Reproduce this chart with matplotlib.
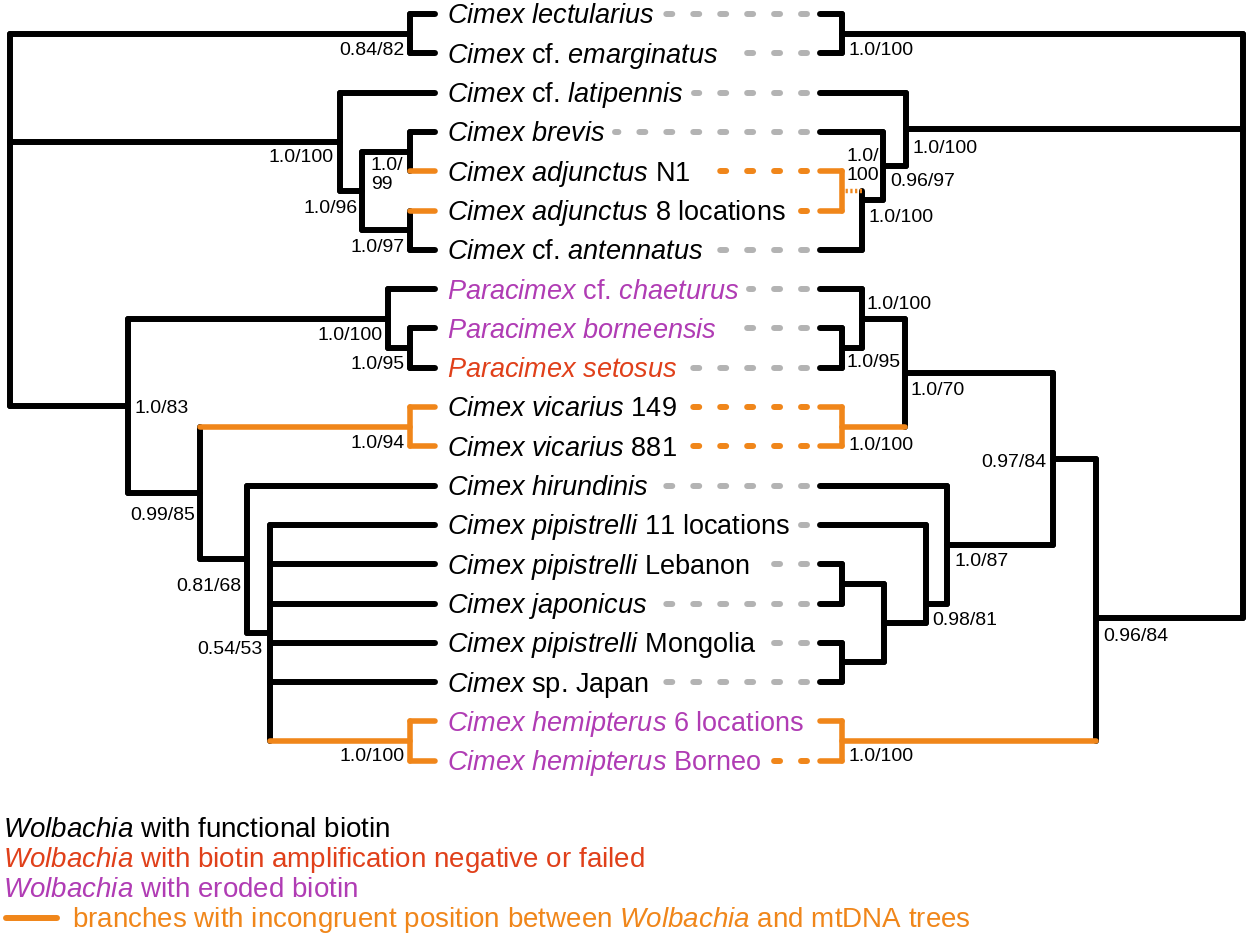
import matplotlib
matplotlib.use("Agg")
import matplotlib.pyplot as plt

plt.rcParams['font.family'] = ['Liberation Sans', 'DejaVu Sans']
plt.rcParams['mathtext.fontset'] = 'custom'
plt.rcParams['mathtext.it'] = 'Liberation Sans:italic'
plt.rcParams['mathtext.rm'] = 'Liberation Sans'
plt.rcParams['lines.scale_dashes'] = False

BLACK = '#000000'
ORANGE = '#f0861a'
GREY = '#b3b3b3'
PURPLE = '#b03cb4'
RED = '#e0401a'

# taxa, top to bottom (shared by both trees)
taxa = [
    r"$\mathit{Cimex}$ $\mathit{lectularius}$",
    r"$\mathit{Cimex}$ cf. $\mathit{emarginatus}$",
    r"$\mathit{Cimex}$ cf. $\mathit{latipennis}$",
    r"$\mathit{Cimex}$ $\mathit{brevis}$",
    r"$\mathit{Cimex}$ $\mathit{adjunctus}$ N1",
    r"$\mathit{Cimex}$ $\mathit{adjunctus}$ 8 locations",
    r"$\mathit{Cimex}$ cf. $\mathit{antennatus}$",
    r"$\mathit{Paracimex}$ cf. $\mathit{chaeturus}$",
    r"$\mathit{Paracimex}$ $\mathit{borneensis}$",
    r"$\mathit{Paracimex}$ $\mathit{setosus}$",
    r"$\mathit{Cimex}$ $\mathit{vicarius}$ 149",
    r"$\mathit{Cimex}$ $\mathit{vicarius}$ 881",
    r"$\mathit{Cimex}$ $\mathit{hirundinis}$",
    r"$\mathit{Cimex}$ $\mathit{pipistrelli}$ 11 locations",
    r"$\mathit{Cimex}$ $\mathit{pipistrelli}$ Lebanon",
    r"$\mathit{Cimex}$ $\mathit{japonicus}$",
    r"$\mathit{Cimex}$ $\mathit{pipistrelli}$ Mongolia",
    r"$\mathit{Cimex}$ sp. Japan",
    r"$\mathit{Cimex}$ $\mathit{hemipterus}$ 6 locations",
    r"$\mathit{Cimex}$ $\mathit{hemipterus}$ Borneo",
]
biotin = ['functional'] * 7 + ['eroded', 'eroded', 'failed'] + ['functional'] * 8 + ['eroded', 'eroded']
biotin_colour = {'functional': BLACK, 'failed': RED, 'eroded': PURPLE}

legend_lines = [
    (r"$\mathit{Wolbachia}$ with functional biotin", BLACK),
    (r"$\mathit{Wolbachia}$ with biotin amplification negative or failed", RED),
    (r"$\mathit{Wolbachia}$ with eroded biotin", PURPLE),
]
legend_branch = r"branches with incongruent position between $\mathit{Wolbachia}$ and mtDNA trees"


def N(x, kids, sup=None, lab=None, inc=False, join=None, stem='solid'):
    return dict(x=x, kids=kids, sup=sup, lab=lab, inc=inc, join=join, stem=stem)


# Wolbachia tree (left), node heights + support values
wolbachia_tree = N(10, [
    N(410, [0, 1], '0.84/82', (405, 0.94, 'right')),
    N(340, [2, N(362, [N(410, [3, 4], '1.0/\n99', (371, 4.1, 'left')),
                       N(410, [5, 6], '1.0/97', (405, 5.93, 'right'))],
                 '1.0/96', (358, 4.94, 'right'))],
      '1.0/100', (334, 3.66, 'right')),
    N(128, [N(388, [7, N(410, [8, 9], '1.0/95', (405, 8.93, 'right'))],
              '1.0/100', (383, 8.17, 'right')),
            N(200, [N(410, [10, 11], '1.0/94', (405, 10.92, 'right'), inc=True),
                    N(247, [12, N(270, [13, 14, 15, 16, 17,
                                        N(410, [18, 19], '1.0/100', (405, 18.9, 'right'), inc=True)],
                                  '0.54/53', (263, 16.16, 'right'))],
                      '0.81/68', (241, 14.58, 'right'))],
              '0.99/85', (195, 12.75, 'right'))],
      '1.0/83', (135, 10.03, 'left')),
])
wolbachia_inc_leaves = [4, 5]

# mtDNA tree (right)
mtdna_tree = N(1243, [
    N(842, [0, 1], '1.0/100', (848, 0.94, 'left')),
    N(906, [2, N(883, [3, N(862, [N(842, [4, 5], '1.0/\n100', (846, 3.87, 'left'),
                                    inc=True, stem='dotted'), 6],
                             '1.0/100', (868, 5.17, 'left'), join=4.73)],
                 '0.96/97', (890, 4.25, 'left'))],
      '1.0/100', (912, 3.41, 'left')),
    N(1096, [N(1053, [N(905, [N(862, [7, N(842, [8, 9], '1.0/95', (847, 8.88, 'left'))],
                                '1.0/100', (866, 7.4, 'left')),
                              N(842, [10, 11], '1.0/100', (848, 10.97, 'left'), inc=True)],
                        '1.0/70', (910, 9.57, 'left')),
                      N(947, [12, N(926, [13, N(884, [N(842, [14, 15]), N(842, [16, 17])])],
                                    '0.98/81', (932, 15.42, 'left'), join=15.0)],
                        '1.0/87', (955, 13.94, 'left'))],
               '0.97/84', (1046, 11.4, 'right')),
             N(842, [18, 19], '1.0/100', (848, 18.9, 'left'), inc=True)],
      '0.96/84', (1103, 15.83, 'left'), join=15.37),
])

LEFT_TIP = 435
RIGHT_TIP = 820
LABEL_X = 447
TREE_LW = 4.3


def place(n):
    if isinstance(n, int):
        return n
    ys = [place(c) for c in n['kids']]
    n['lo'], n['hi'] = min(ys), max(ys)
    n['y'] = n['join'] if n['join'] is not None else (n['lo'] + n['hi']) / 2
    return n['y']


def inc_leaves(n, inside=False):
    if isinstance(n, int):
        return [n] if inside else []
    return [l for c in n['kids'] for l in inc_leaves(c, inside or n['inc'])]


def draw(ax, n, tip_x, leaf_inc, inside=False):
    col = ORANGE if inside else BLACK
    ax.plot([n['x'], n['x']], [n['lo'], n['hi']], color=col, lw=TREE_LW if not inside else 4.0,
            solid_capstyle='round', zorder=3)
    for c in n['kids']:
        if isinstance(c, int):
            cx, cy, cinc, style = tip_x, c, inside or c in leaf_inc, 'solid'
        else:
            cx, cy, cinc, style = c['x'], c['y'], inside or c['inc'], c['stem']
        ccol = ORANGE if cinc else BLACK
        if style == 'dotted':
            ax.plot([n['x'], cx], [cy, cy], color=ccol, lw=3.2, dashes=(1.6, 1.8),
                    dash_capstyle='butt', zorder=3)
        else:
            ax.plot([n['x'], cx], [cy, cy], color=ccol, lw=TREE_LW if not cinc else 4.0,
                    solid_capstyle='round', zorder=3)
        if not isinstance(c, int):
            draw(ax, c, tip_x, leaf_inc, cinc)
    if n['sup']:
        tx, ty, ha = n['lab']
        ax.text(tx, ty, n['sup'], fontsize=14, ha=ha, va='center', color=BLACK,
                linespacing=1.15, zorder=4)


fig = plt.figure(figsize=(12.5, 9.4), dpi=100)
ax = fig.add_axes([0, 0, 1, 1])
ax.set_xlim(0, 1250)
ax.set_ylim((940 - 14) / 39.3, -14 / 39.3)
ax.axis('off')

place(wolbachia_tree)
place(mtdna_tree)

# taxon labels
texts = []
for i, name in enumerate(taxa):
    t = ax.text(LABEL_X, i + 0.24, name, fontsize=19.5, color=biotin_colour[biotin[i]],
                ha='left', va='baseline')
    texts.append(t)

fig.canvas.draw()
renderer = fig.canvas.get_renderer()
inv = ax.transData.inverted()
mt_inc = inc_leaves(mtdna_tree)
for i, t in enumerate(texts):
    bb = t.get_window_extent(renderer)
    x_end = inv.transform((bb.x1, 0))[0]
    start = x_end + 10
    if start < 806:
        ax.plot([807, start], [i, i], color=ORANGE if i in mt_inc else GREY, lw=4.3,
                dashes=(4.3, 15.1), dash_capstyle='round', zorder=2)

draw(ax, wolbachia_tree, LEFT_TIP, wolbachia_inc_leaves)
draw(ax, mtdna_tree, RIGHT_TIP, [])

# legend
legend_rows = [(828 - 14) / 39.3, (858 - 14) / 39.3, (888 - 14) / 39.3, (918 - 14) / 39.3]
for (txt, col), r in zip(legend_lines, legend_rows):
    ax.text(3, r + 0.22, txt, fontsize=20, color=col, ha='left', va='baseline')
ax.plot([6, 57], [legend_rows[3], legend_rows[3]], color=ORANGE, lw=4.3, solid_capstyle='round')
ax.text(72, legend_rows[3] + 0.22, legend_branch, fontsize=20, color=ORANGE, ha='left', va='baseline')

fig.savefig('out.png', dpi=100)
